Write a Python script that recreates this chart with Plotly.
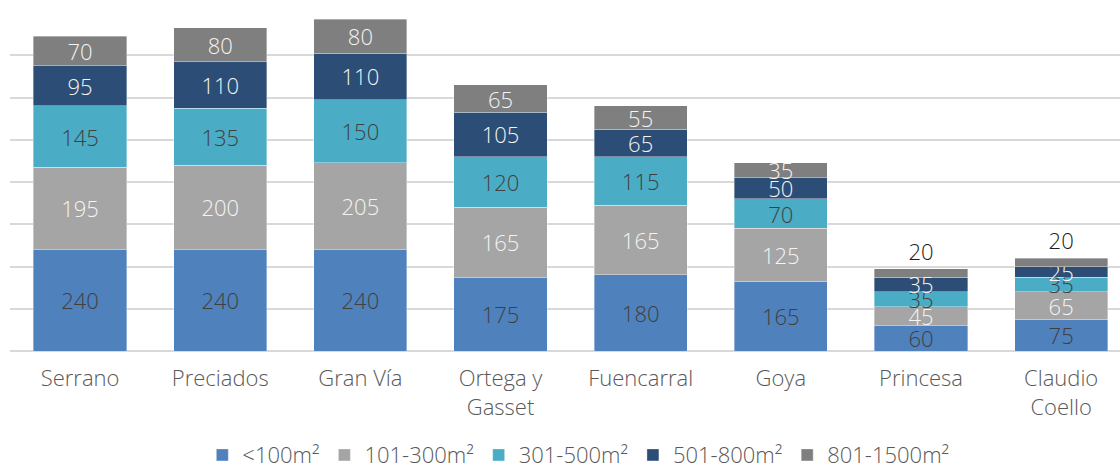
import plotly.graph_objects as go

# Streets and number of retail units by surface range
streets = ["Serrano", "Preciados", "Gran Vía", "Ortega y<br>Gasset", "Fuencarral",
           "Goya", "Princesa", "Claudio<br>Coello"]

under_100 = [240, 240, 240, 175, 180, 165, 60, 75]
from_101_300 = [195, 200, 205, 165, 165, 125, 45, 65]
from_301_500 = [145, 135, 150, 120, 115, 70, 35, 35]
from_501_800 = [95, 110, 110, 105, 65, 50, 35, 25]
from_801_1500 = [70, 80, 80, 65, 55, 35, 20, 20]

series_names = ["&lt;100m²", "101-300m²", "301-500m²", "501-800m²", "801-1500m²"]
series_values = [under_100, from_101_300, from_301_500, from_501_800, from_801_1500]
series_colors = ["#4F81BD", "#A5A5A5", "#4BACC6", "#2C4D75", "#7F7F7F"]
label_colors = ["#404040", "#F4F4F4", "#404040", "#F4F4F4", "#F4F4F4"]

FONT = "Open Sans"

fig = go.Figure()
for i, (name, vals, col, lc) in enumerate(zip(series_names, series_values, series_colors, label_colors)):
    positions = ["inside"] * len(vals)
    if i == len(series_names) - 1:
        # small top segments get their label placed above the bar
        positions = ["outside" if v <= 20 else "inside" for v in vals]
    fig.add_trace(go.Bar(
        x=streets, y=vals, name=name,
        marker=dict(color=col, line=dict(color="rgba(255,255,255,0.6)", width=0.6)),
        width=0.665,
        text=[str(v) for v in vals],
        textposition=positions,
        insidetextanchor="middle",
        textangle=0,
        constraintext="none",
        cliponaxis=False,
        insidetextfont=dict(family=FONT, size=22, color=lc, weight=300),
        outsidetextfont=dict(family=FONT, size=22, color="#1A1A1A", weight=300),
        hoverinfo="x+y+name",
    ))

fig.update_layout(
    barmode="stack",
    width=1120, height=470,
    margin=dict(l=10, r=0, t=13, b=119, autoexpand=False),
    paper_bgcolor="white", plot_bgcolor="white",
    font=dict(family=FONT, color="#595959"),
    showlegend=True,
    legend=dict(orientation="h", x=0.512, xanchor="center", y=-0.308, yanchor="middle",
                font=dict(family=FONT, size=22, color="#595959", weight=300),
                itemwidth=30, traceorder="normal"),
    xaxis=dict(range=[-0.5, 7.42], showgrid=False, showline=False, ticks="",
               automargin=False, ticklabelstandoff=12,
               tickfont=dict(family=FONT, size=22, color="#595959", weight=300)),
    yaxis=dict(range=[0, 800], dtick=100, showticklabels=False, showgrid=True,
               automargin=False,
               gridcolor="#D9D9D9", gridwidth=1.5, zeroline=True,
               zerolinecolor="#D9D9D9", zerolinewidth=2, showline=False, ticks=""),
    uniformtext=dict(mode=False),
)

fig.write_html("out.html")
